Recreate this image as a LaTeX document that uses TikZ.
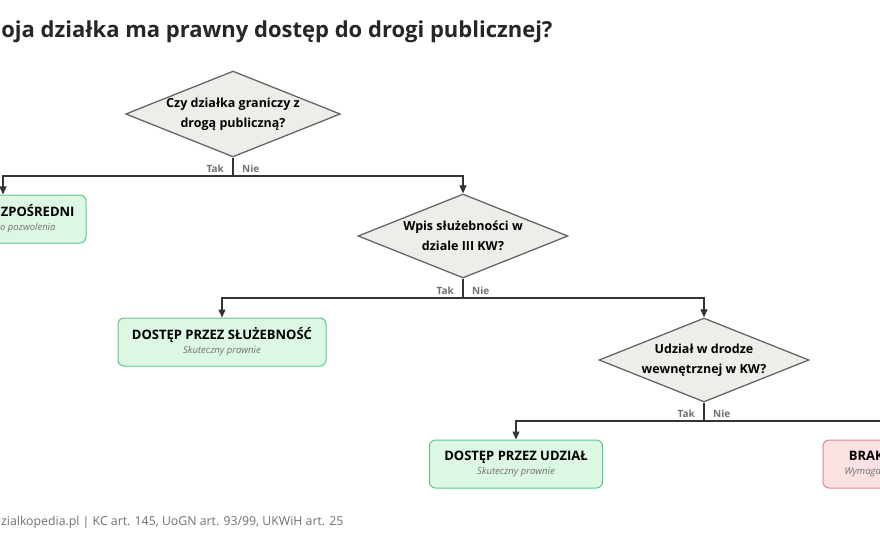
\documentclass[tikz,border=0pt]{standalone}
\usepackage{fontspec}
\setmainfont{Open Sans}
\usetikzlibrary{arrows.meta,positioning,shapes.geometric}
\definecolor{qfill}{HTML}{EEEDE8}
\definecolor{qdraw}{HTML}{666666}
\definecolor{okfill}{HTML}{DDF7E5}
\definecolor{okdraw}{HTML}{5CC98A}
\definecolor{nofill}{HTML}{FBE1E1}
\definecolor{nodraw}{HTML}{DE8A8F}
\definecolor{labgray}{HTML}{707070}
\newcommand{\subnote}[1]{{\fontsize{9.5}{11}\selectfont\itshape\mdseries\color{labgray}#1}}

\begin{document}
\begin{tikzpicture}[x=1pt, y=-1pt,
  question/.style={
    diamond, draw=qdraw, fill=qfill, line width=1.3pt,
    minimum width=210pt, minimum height=84pt, inner sep=0pt, aspect=2.5,
    align=center, font=\fontsize{12.5}{20}\selectfont\bfseries
  },
  result/.style={
    rectangle, rounded corners=6pt, line width=1pt,
    minimum height=48pt, align=center, inner sep=3pt,
    font=\fontsize{13}{19}\selectfont\bfseries
  },
  good/.style={result, draw=okdraw, fill=okfill},
  bad/.style={result, draw=nodraw, fill=nofill},
  branch/.style={font=\fontsize{10}{11}\selectfont\bfseries, text=labgray, inner sep=1pt},
  arr/.style={-{Triangle[length=8pt,width=7pt]}, line width=1.2pt, black!80},
  line/.style={line width=1.2pt, black!80},
]
\path[use as bounding box] (0,0) rectangle (880,540);
\clip (0,0) rectangle (880,540);
\fill[white] (0,0) rectangle (880,540);

% ── Title ──
\node[anchor=east, font=\fontsize{22}{24}\selectfont\bfseries, text=black!85] (title)
  at (556,32) {Czy moja działka ma prawny dostęp do drogi publicznej?};

% ── Nodes ──
\node[question] (road) at (233,114) {Czy działka graniczy z\\drogą publiczną?};
\node[good, minimum width=166pt] (direct) at (3,219)
  {DOSTĘP BEZPOŚREDNI\\[-5pt]\subnote{Wystarczy do pozwolenia}};

\node[question] (easement) at (463,236) {Wpis służebności w\\dziale III KW?};
\node[good, minimum width=208pt] (viaeasement) at (222,342)
  {DOSTĘP PRZEZ SŁUŻEBNOŚĆ\\[-5pt]\subnote{Skuteczny prawnie}};

\node[question] (share) at (704,360) {Udział w drodze\\wewnętrznej w KW?};
\node[good, minimum width=173pt] (viashare) at (516,464)
  {DOSTĘP PRZEZ UDZIAŁ\\[-5pt]\subnote{Skuteczny prawnie}};
\node[bad, minimum width=150pt] (noaccess) at (898,464)
  {BRAK DOSTĘPU\\[-5pt]\subnote{Wymaga drogi koniecznej}};

% ── Junctions ──
\coordinate (j1) at (233,176);
\coordinate (j2) at (463,298);
\coordinate (j3) at (704,421);

% ── Edges ──
\draw[line] (road) -- (j1);
\draw[arr] (j1) -| (direct.north);
\draw[arr] (j1) -| (easement.north);
\node[branch, above left=2pt and 8pt of j1] (yes1) {Tak};
\node[branch, above right=2pt and 8pt of j1] (no1) {Nie};

\draw[line] (easement) -- (j2);
\draw[arr] (j2) -| (viaeasement.north);
\draw[arr] (j2) -| (share.north);
\node[branch, above left=2pt and 8pt of j2] (yes2) {Tak};
\node[branch, above right=2pt and 8pt of j2] (no2) {Nie};

\draw[line] (share) -- (j3);
\draw[arr] (j3) -| (viashare.north);
\draw[arr] (j3) -| (noaccess.north);
\node[branch, above left=2pt and 8pt of j3] (yes3) {Tak};
\node[branch, above right=2pt and 8pt of j3] (no3) {Nie};

% ── Footer ──
\node[anchor=base east, font=\fontsize{12.3}{14}\selectfont, text=labgray] (source)
  at (347,525) {dzialkopedia.pl | KC art. 145, UoGN art. 93/99, UKWiH art. 25};
\end{tikzpicture}
\end{document}
